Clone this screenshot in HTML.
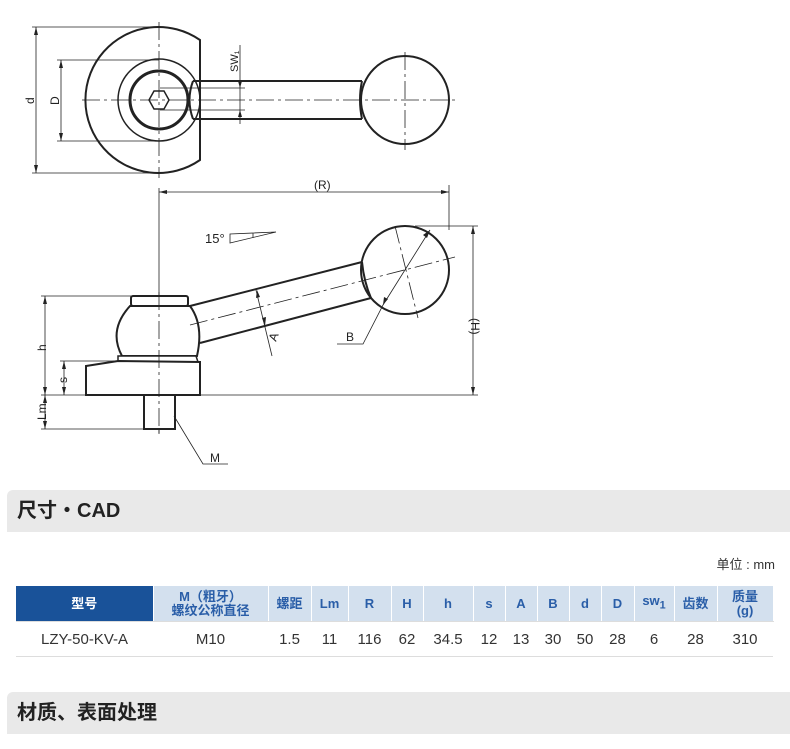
<!DOCTYPE html>
<html><head><meta charset="utf-8"><style>
body{margin:0;width:790px;height:749px;background:#fff;position:relative;overflow:hidden;font-family:"Liberation Sans","Noto Sans CJK SC",sans-serif}
.bar{position:absolute;left:7px;right:0;height:42px;background:#e9e9e9;border-radius:6px 0 0 0;font-weight:bold;font-size:20px;color:#222;line-height:42px;padding-left:10px}
table{position:absolute;left:16px;top:586px;border-collapse:collapse;font-size:14px;table-layout:fixed;width:757px}
td{text-align:center;padding:0;border-bottom:1px solid #ddd;color:#333;overflow:hidden;white-space:nowrap}
tr.h td{background:#d3e0ee;color:#2a5ea8;font-weight:bold;height:35px;font-size:13px;line-height:14px;border-right:1px solid #fff}
tr.h td.f{background:#195299;color:#fff}
tr.b td{height:34px;font-size:15px}
</style></head><body>
<svg width="790" height="480" style="position:absolute;left:0;top:0" fill="none" stroke="#222" font-family="Liberation Sans" font-size="12">
<path d="M200,40 A73,73 0 1 0 200,160 Z" stroke-width="2"/>
<circle cx="159" cy="100" r="41" stroke-width="1.5"/>
<circle cx="159" cy="100" r="29" stroke-width="3"/>
<polygon points="169,100 164,109 154,109 149,100 154,91 164,91" stroke-width="1.5"/>
<path d="M193,81 L362,81 M193,119 L362,119" stroke-width="2"/>
<path d="M193,81 Q186,100 193,119" stroke-width="2"/>
<circle cx="405" cy="100" r="44" stroke-width="2" fill="#fff"/>
<path d="M362,81 Q358,100 362,119" stroke-width="2"/>
<g stroke-width="0.8">
<path d="M82,100 L455,100" stroke-dasharray="18,4,3,4"/>
<path d="M159,22 L159,178 M405,52 L405,150" stroke-dasharray="18,4,3,4"/>
<path d="M32,27 L159,27 M32,173 L159,173 M57,60 L159,60 M57,141 L159,141"/>
<path d="M36,27 L36,173 M61,60 L61,141 M240,45 L240,124 M160,88 L245,88 M160,110 L245,110"/>
<path d="M159,188 L159,434 M449,185 L449,230"/>
<path d="M159,192 L449,192"/>
</g>
<g fill="#222" stroke="none">
<polygon points="36,27 34,35 38,35"/><polygon points="36,173 34,165 38,165"/>
<polygon points="61,60 59,68 63,68"/><polygon points="61,141 59,133 63,133"/>
<polygon points="240,88 238,81 242,81"/><polygon points="240,110 238,117 242,117"/>
<polygon points="159,192 167,190 167,194"/><polygon points="449,192 441,190 441,194"/>
<text x="314" y="189">(R)</text>
<text transform="translate(34,104) rotate(-90)">d</text>
<text transform="translate(59,105) rotate(-90)">D</text>
<text transform="translate(238,72) rotate(-90)" font-size="11">SW₁</text>
<text x="205" y="243" font-size="13">15°</text>
<text transform="translate(46,351) rotate(-90)">h</text>
<text transform="translate(67,383) rotate(-90)">s</text>
<text transform="translate(46,420) rotate(-90)">Lm</text>
<text transform="translate(276,342) rotate(-70)">A</text>
<text x="346" y="341">B</text>
<text x="210" y="462">M</text>
<text transform="translate(471,318) rotate(90)">(H)</text>
</g>
<path d="M230,243 L230,234 L276,232 Z M253,238 L253,233" stroke-width="0.8"/>
<path d="M190,306 L362,262 M200,343 L371,298" stroke-width="2"/>
<circle cx="405" cy="270" r="44" stroke-width="2" fill="#fff"/>
<path d="M362,262 Q364,282 371,298" stroke-width="2"/>
<path d="M130,306 Q108,330 122,356 L197,356 Q204,325 190,306 Z" stroke-width="2" fill="#fff"/>
<rect x="131" y="296" width="57" height="10" rx="2" stroke-width="2" fill="#fff"/>
<path d="M118,356 L196,356 L198,362 L118,362 Z" stroke-width="1.5" fill="#fff"/>
<path d="M86,366 L118,361 L200,362 L200,395 L86,395 Z" stroke-width="2" fill="#fff"/>
<rect x="144" y="395" width="31" height="34" stroke-width="2" fill="#fff"/>
<g stroke-width="0.8">
<path d="M159,292 L159,434" stroke-dasharray="18,4,3,4"/>
<path d="M190,325 L455,257 M395,226 L418,318" stroke-dasharray="18,4,3,4"/>
<path d="M41,296 L131,296 M41,395 L478,395 M60,361 L118,361 M41,429 L144,429 M415,226 L478,226"/>
<path d="M45,296 L45,429 M64,361 L64,395 M473,226 L473,395"/>
<path d="M256,290 L272,356"/>
<path d="M430,230 L383,305 L363,344 L337,344"/>
<path d="M174,416 L203,464 L228,464"/>
</g>
<g fill="#222" stroke="none">
<polygon points="45,296 43,304 47,304"/><polygon points="45,395 43,387 47,387"/>
<polygon points="64,361 62,369 66,369"/><polygon points="64,395 62,387 66,387"/>
<polygon points="45,395 43,403 47,403"/><polygon points="45,429 43,421 47,421"/>
<polygon points="473,226 471,234 475,234"/><polygon points="473,395 471,387 475,387"/>
<polygon points="430,230 423,235 427,238"/><polygon points="383,305 384,297 388,299"/>
<polygon points="257,290 256,298 260,297"/><polygon points="265,326 262,318 266,317"/>
</g>
</svg>
<div class="bar" style="top:490px">尺寸・CAD</div>
<div style="position:absolute;right:15px;top:554px;font-size:13px;color:#333">单位 : mm</div>
<table>
<colgroup><col style="width:137px"><col style="width:115px"><col style="width:43px"><col style="width:37px"><col style="width:43px"><col style="width:32px"><col style="width:50px"><col style="width:32px"><col style="width:32px"><col style="width:32px"><col style="width:32px"><col style="width:33px"><col style="width:40px"><col style="width:43px"><col style="width:56px"></colgroup>
<tr class="h"><td class="f">型号</td><td>M（粗牙）<br>螺纹公称直径</td><td>螺距</td><td>Lm</td><td>R</td><td>H</td><td>h</td><td>s</td><td>A</td><td>B</td><td>d</td><td>D</td><td>sw<sub>1</sub></td><td>齿数</td><td>质量<br>(g)</td></tr>
<tr class="b"><td>LZY-50-KV-A</td><td>M10</td><td>1.5</td><td>11</td><td>116</td><td>62</td><td>34.5</td><td>12</td><td>13</td><td>30</td><td>50</td><td>28</td><td>6</td><td>28</td><td>310</td></tr>
</table>
<div class="bar" style="top:692px">材质、表面处理</div>
</body></html>
